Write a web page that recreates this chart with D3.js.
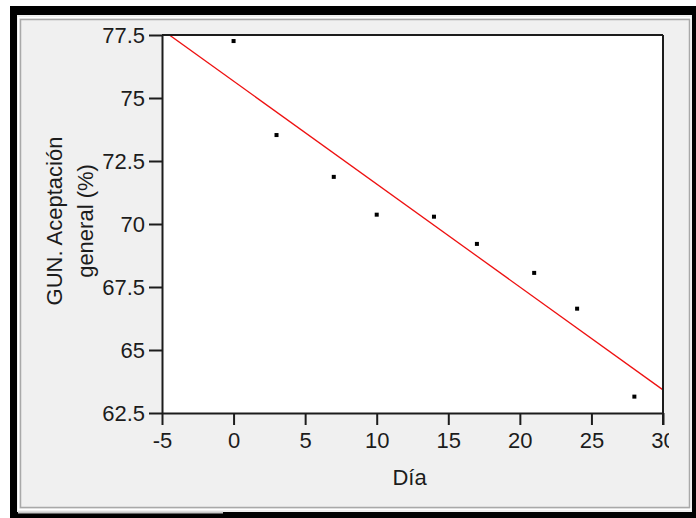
<!DOCTYPE html>
<html>
<head>
<meta charset="utf-8">
<script src="https://cdn.jsdelivr.net/npm/d3@7/dist/d3.min.js"></script>
<style>
  html, body { margin: 0; padding: 0; background: #ffffff; }
  svg { display: block; }
  text { font-family: "Liberation Sans", Arial, sans-serif; }
</style>
</head>
<body>
<svg id="chart" width="696" height="518"></svg>
<script>
// Sensory panel: overall acceptance (%) of GUN samples over storage days
const days = [0, 3, 7, 10, 14, 17, 21, 24, 28];
const acceptance = [77.26, 73.53, 71.87, 70.37, 70.29, 69.21, 68.06, 66.64, 63.15];

const xTicks = [-5, 0, 5, 10, 15, 20, 25, 30];
const xTickLabels = ["-5", "0", "5", "10", "15", "20", "25", "30"];
const yTicks = [62.5, 65, 67.5, 70, 72.5, 75, 77.5];
const yTickLabels = ["62.5", "65", "67.5", "70", "72.5", "75", "77.5"];

const xTitle = "Día";
const yTitleLines = ["GUN. Aceptación", "general (%)"];

const svg = d3.select("#chart");
const ink = "#1c1c1c";
const fontSize = 22;

// Window-style frame around the graph panel
svg.append("rect").attr("x", 10).attr("y", 6).attr("width", 686).attr("height", 512).attr("fill", "#000");
svg.append("rect").attr("x", 17).attr("y", 15).attr("width", 675).attr("height", 497).attr("fill", "#f0f0f0");
svg.append("rect").attr("x", 18.5).attr("y", 17.5).attr("width", 672).attr("height", 492)
  .attr("fill", "none").attr("stroke", "#ffffff").attr("stroke-width", 1);
svg.append("rect").attr("x", 20.5).attr("y", 19.5).attr("width", 669).attr("height", 488)
  .attr("fill", "none").attr("stroke", "#a9a9a9").attr("stroke-width", 1.5);
svg.append("rect").attr("x", 18).attr("y", 511.5).attr("width", 205).attr("height", 2).attr("fill", "#c8c8c8");

// Plot region
const plotLeft = 162, plotRight = 663, plotTop = 35, plotBottom = 413;

const x = d3.scaleLinear().domain([-5, 30]).range([plotLeft, plotRight]);
const y = d3.scaleLinear().domain([62.5, 77.5]).range([plotBottom, plotTop]);

svg.append("rect").attr("x", plotLeft).attr("y", plotTop)
  .attr("width", plotRight - plotLeft).attr("height", plotBottom - plotTop).attr("fill", "#ffffff");

svg.append("clipPath").attr("id", "plot-clip")
  .append("rect").attr("x", plotLeft).attr("y", plotTop)
  .attr("width", plotRight - plotLeft).attr("height", plotBottom - plotTop);

svg.append("clipPath").attr("id", "panel-clip")
  .append("rect").attr("x", 17).attr("y", -500).attr("width", 652).attr("height", 1000);

// Least-squares fit of acceptance against day
const mx = d3.mean(days), my = d3.mean(acceptance);
const sxy = d3.sum(days, (d, i) => (d - mx) * (acceptance[i] - my));
const sxx = d3.sum(days, d => (d - mx) * (d - mx));
const slope = sxy / sxx;
const intercept = my - slope * mx;
const fitDomain = x.domain();

svg.append("line")
  .attr("clip-path", "url(#plot-clip)")
  .attr("x1", x(fitDomain[0])).attr("y1", y(intercept + slope * fitDomain[0]))
  .attr("x2", x(fitDomain[1])).attr("y2", y(intercept + slope * fitDomain[1]))
  .attr("stroke", "#ee1111").attr("stroke-width", 1.3);

// Observations
svg.append("g").selectAll("rect")
  .data(days.map((d, i) => [d, acceptance[i]]))
  .join("rect")
  .attr("x", d => x(d[0]) - 2)
  .attr("y", d => y(d[1]) - 2)
  .attr("width", 4).attr("height", 4)
  .attr("fill", "#000");

// Top and right borders of the plot box
svg.append("line").attr("x1", plotLeft).attr("x2", plotRight).attr("y1", plotTop).attr("y2", plotTop)
  .attr("stroke", ink).attr("stroke-width", 2);
svg.append("line").attr("x1", plotRight).attr("x2", plotRight).attr("y1", plotTop).attr("y2", plotBottom + 12)
  .attr("stroke", ink).attr("stroke-width", 2);

// Axes
const xAxis = d3.axisBottom(x)
  .tickValues(xTicks)
  .tickFormat((d, i) => xTickLabels[i])
  .tickSize(12).tickSizeOuter(0).tickPadding(7);

const yAxis = d3.axisLeft(y)
  .tickValues(yTicks)
  .tickFormat((d, i) => yTickLabels[i])
  .tickSize(13).tickSizeOuter(0).tickPadding(4);

function styleAxis(g) {
  g.select(".domain").attr("stroke", ink).attr("stroke-width", 2);
  g.selectAll(".tick line").attr("stroke", ink).attr("stroke-width", 2);
  g.selectAll(".tick text")
    .attr("fill", ink)
    .style("font-size", fontSize + "px")
    .style("font-family", "'Liberation Sans', Arial, sans-serif");
  g.attr("font-family", null).attr("font-size", null);
}

svg.append("g")
  .attr("clip-path", "url(#panel-clip)")
  .append("g")
  .attr("transform", `translate(0,${plotBottom})`)
  .call(xAxis)
  .call(styleAxis);

svg.append("g")
  .attr("transform", `translate(${plotLeft},0)`)
  .call(yAxis)
  .call(styleAxis);

// Axis titles
svg.append("text")
  .attr("x", (plotLeft + plotRight) / 2 - 3).attr("y", 485)
  .attr("text-anchor", "middle")
  .attr("fill", ink)
  .style("font-size", fontSize + "px")
  .text(xTitle);

const yTitleBaselines = [62, 93];
yTitleLines.forEach((line, i) => {
  svg.append("text")
    .attr("transform", `translate(${yTitleBaselines[i]},221) rotate(-90)`)
    .attr("text-anchor", "middle")
    .attr("fill", ink)
    .style("font-size", fontSize + "px")
    .text(line);
});
</script>
</body>
</html>
